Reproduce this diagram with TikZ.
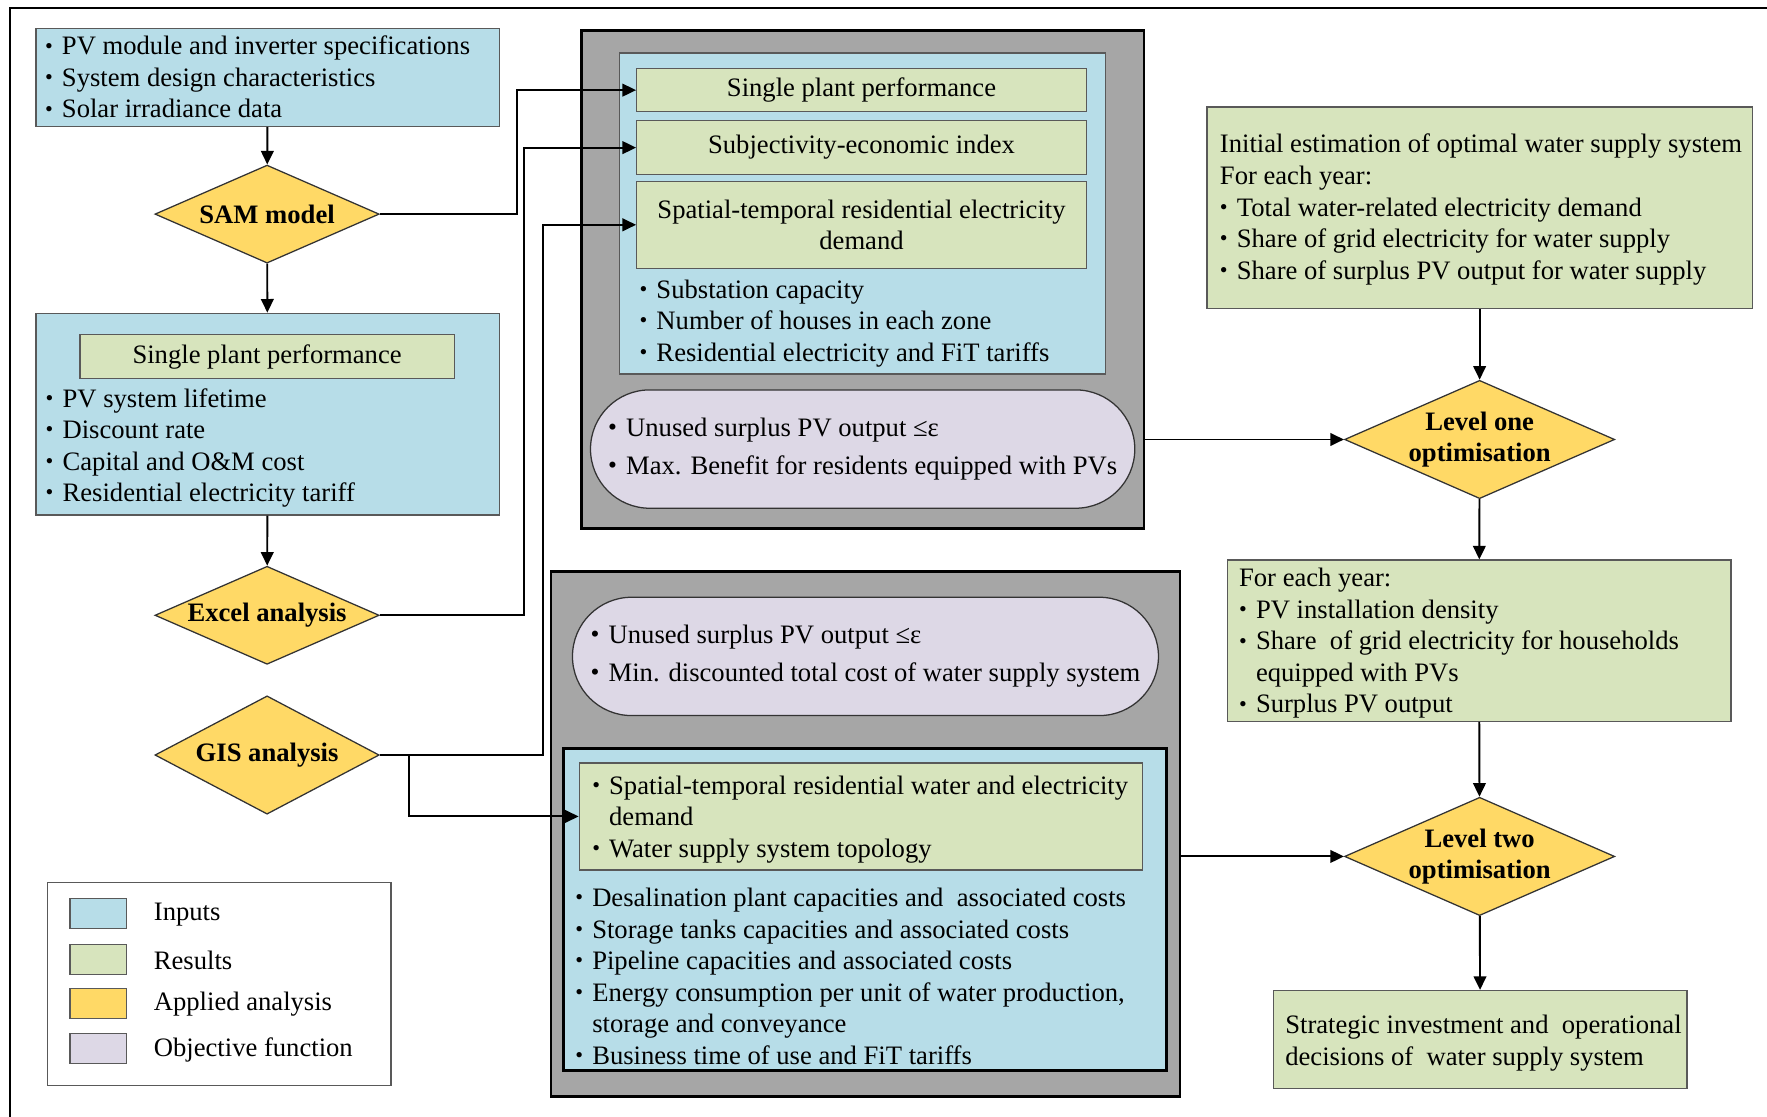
\documentclass[tikz,border=0pt]{standalone}
\usepackage{fontspec}
\setmainfont{Liberation Serif}
\usetikzlibrary{positioning, arrows.meta, calc, shapes.geometric, shapes.misc}

\newlength\unitpx
\setlength\unitpx{0.0125cm}
\definecolor{inputblue}{HTML}{B7DDE8}
\definecolor{resultgreen}{HTML}{D7E4BD}
\definecolor{analysisgold}{HTML}{FFD966}
\definecolor{objpurple}{HTML}{DDD8E6}
\definecolor{panelgray}{HTML}{A6A6A6}
\definecolor{edgegray}{HTML}{595959}
\newcommand{\itm}{\makebox[15\unitpx][l]{\raisebox{0.15ex}{\scriptsize\textbullet}}}
\newcommand{\objitm}{\makebox[16\unitpx][l]{\raisebox{0.1ex}{\footnotesize\textbullet}}}
\newcommand{\hang}{\hspace*{15\unitpx}}

\begin{document}
\begin{tikzpicture}[
    x=0.0125cm, y=-0.0125cm,
    font=\fontsize{8.4}{9.96}\selectfont,
    inbox/.style={rectangle, draw=edgegray, fill=inputblue, line width=0.4pt, inner sep=0pt},
    resbox/.style={rectangle, draw=edgegray, fill=resultgreen, line width=0.4pt, inner sep=0pt, align=center},
    panel/.style={rectangle, draw=black, fill=panelgray, line width=0.8pt, inner sep=0pt},
    analysis/.style={diamond, aspect=2.3, draw=black!80, fill=analysisgold, line width=0.4pt, inner sep=0pt, align=center, font=\fontsize{8.4}{9.96}\selectfont\bfseries},
    objective/.style={rounded rectangle, draw=black!80, fill=objpurple, line width=0.4pt, inner sep=0pt, align=left},
    listtext/.style={anchor=west, align=left, inner sep=0pt},
    swatch/.style={rectangle, draw=edgegray, line width=0.4pt, minimum width=50\unitpx, minimum height=27\unitpx, inner sep=0pt},
    arrow/.style={-{Triangle[length=4.3pt, width=4pt]}, line width=0.6pt}
]
    \useasboundingbox (0,0) rectangle (1568,991);
    \draw [line width=0.8pt] (9,991) -- (9,7) -- (1568,7);

    \node [inbox, minimum width=411\unitpx, minimum height=87\unitpx] (inspec) at (237.5,68.5) {};
    \node [listtext] (inspectxt) at ([xshift=8\unitpx]inspec.west) {\itm PV module and inverter specifications\\ \itm System design characteristics\\ \itm Solar irradiance data};
    \node [analysis, minimum width=199\unitpx, minimum height=87\unitpx] (sam) at (237,190) {SAM model};
    \node [inbox, minimum width=411\unitpx, minimum height=179\unitpx] (inecon) at (237.5,367.5) {};
    \node [resbox, minimum width=332\unitpx, minimum height=39\unitpx] (plantres) at (237,316.5) {Single plant performance};
    \node [listtext] (inecontxt) at (40,397.5) {\itm PV system lifetime\\ \itm Discount rate\\ \itm Capital and O\&M cost\\ \itm Residential electricity tariff};
    \node [analysis, minimum width=199\unitpx, minimum height=87\unitpx] (excel) at (237,546) {Excel analysis};
    \node [analysis, minimum width=199\unitpx, minimum height=105\unitpx] (gis) at (237,670) {GIS analysis};

    \node [panel, minimum width=499\unitpx, minimum height=442\unitpx] (upper) at (765.5,248) {};
    \node [inbox, minimum width=431\unitpx, minimum height=285\unitpx] (upperin) at (765.5,189.5) {};
    \node [resbox, minimum width=399\unitpx, minimum height=38\unitpx] (plant) at (764.5,80) {Single plant performance};
    \node [resbox, minimum width=399\unitpx, minimum height=48\unitpx] (subj) at (764.5,131) {Subjectivity-economic index};
    \node [resbox, minimum width=399\unitpx, minimum height=77\unitpx] (elecdem) at (764.5,199.5) {Spatial-temporal residential electricity\\demand};
    \node [listtext] (upperintxt) at (567,287) {\itm Substation capacity\\ \itm Number of houses in each zone\\ \itm Residential electricity and FiT tariffs};
    \node [objective, minimum width=483\unitpx, minimum height=105\unitpx] (objone) at (765.5,398.5) {\objitm Unused surplus PV output ≤ε\\[2.1pt] \objitm Max. Benefit for residents equipped with PVs};

    \node [panel, minimum width=558\unitpx, minimum height=466\unitpx] (lower) at (768,740) {};
    \node [objective, minimum width=520\unitpx, minimum height=105\unitpx] (objtwo) at (768,582.5) {\objitm Unused surplus PV output ≤ε\\[2.1pt] \objitm Min. discounted total cost of water supply system};
    \node [inbox, draw=black, line width=0.8pt, minimum width=535\unitpx, minimum height=286\unitpx] (lowerin) at (767.5,807) {};
    \node [resbox, minimum width=500\unitpx, minimum height=95\unitpx] (waterdem) at (764,724.5) {};
    \node [listtext] (waterdemtxt) at (525,727) {\itm Spatial-temporal residential water and electricity\\ \hang demand\\ \itm Water supply system topology};
    \node [listtext] (lowerintxt) at (510,866.5) {\itm Desalination plant capacities and \ associated costs\\ \itm Storage tanks capacities and associated costs\\ \itm Pipeline capacities and associated costs\\ \itm Energy consumption per unit of water production,\\ \hang storage and conveyance\\ \itm Business time of use and FiT tariffs};

    \node [resbox, minimum width=484\unitpx, minimum height=179\unitpx] (init) at (1313,184.5) {};
    \node [listtext] (inittxt) at (1082,186) {Initial estimation of optimal water supply system\\ For each year:\\ \itm Total water-related electricity demand\\ \itm Share of grid electricity for water supply\\ \itm Share of surplus PV output for water supply};
    \node [analysis, minimum width=238\unitpx, minimum height=105\unitpx] (levone) at (1313,390) {Level one\\optimisation};
    \node [resbox, minimum width=447\unitpx, minimum height=143\unitpx] (yearly) at (1312.5,568.5) {};
    \node [listtext] (yearlytxt) at (1099,571) {For each year:\\ \itm PV installation density\\ \itm Share \ of grid electricity for households\\ \hang equipped with PVs\\ \itm Surplus PV output};
    \node [analysis, minimum width=238\unitpx, minimum height=105\unitpx] (levtwo) at (1313,760) {Level two\\optimisation};
    \node [resbox, minimum width=367\unitpx, minimum height=87\unitpx] (strat) at (1313.5,922.5) {};
    \node [listtext] (strattxt) at (1140,925.5) {Strategic investment and \ operational\\ decisions of \ water supply system};

    \node [rectangle, draw=edgegray, line width=0.4pt, minimum width=305\unitpx, minimum height=180\unitpx] (legend) at (194.5,873) {};
    \node [swatch, fill=inputblue] (keyin) at (87,810.5) {};
    \node [swatch, fill=resultgreen] (keyres) at (87,851.5) {};
    \node [swatch, fill=analysisgold] (keyana) at (87,890.5) {};
    \node [swatch, fill=objpurple] (keyobj) at (87,930.5) {};
    \node [listtext] at (136,811.5) {Inputs};
    \node [listtext] at (136,852.5) {Results};
    \node [listtext] at (136,891.5) {Applied analysis};
    \node [listtext] at (136,931.5) {Objective function};

    \draw [arrow] (inspec) -- (sam);
    \draw [arrow] (sam) -- (inecon);
    \draw [arrow] (inecon) -- (excel);
    \draw [arrow] (sam.east) -- ++(122,0) |- (plant.west);
    \draw [arrow] (excel.east) -- ++(128,0) |- (subj.west);
    \draw [arrow] (gis.east) -- ++(145,0) |- (elecdem.west);
    \draw [arrow] (gis.east) -- ++(26,0) |- (waterdem.west);
    \draw [arrow] (levone.west -| upper.east) -- (levone.west);
    \draw [arrow] (levtwo.west -| lower.east) -- (levtwo.west);
    \draw [arrow] (init) -- (levone);
    \draw [arrow] (levone) -- (yearly);
    \draw [arrow] (yearly) -- (levtwo);
    \draw [arrow] (levtwo) -- (strat);
\end{tikzpicture}
\end{document}
